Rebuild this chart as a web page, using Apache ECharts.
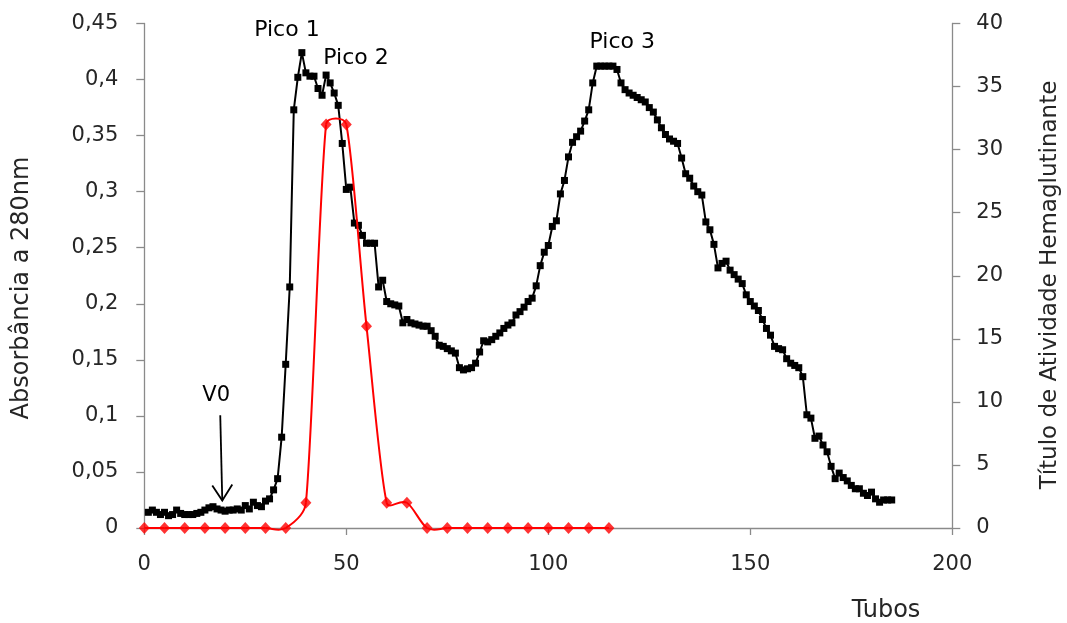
<!DOCTYPE html>
<html>
<head>
<meta charset="utf-8">
<script src="https://cdn.jsdelivr.net/npm/echarts@6/dist/echarts.min.js"></script>
<style>
  html, body { margin: 0; padding: 0; background: #ffffff; }
  #chart { width: 1067px; height: 623px; }
</style>
</head>
<body>
<div id="chart"></div>
<script>
// Absorbance at 280 nm, one reading per tube (tubes 1..185)
const absorbance = [
  0.014, 0.016, 0.014, 0.012, 0.014, 0.011, 0.012, 0.016, 0.013, 0.012,
  0.012, 0.012, 0.013, 0.014, 0.016, 0.018, 0.019, 0.017, 0.016, 0.015,
  0.016, 0.016, 0.017, 0.016, 0.020, 0.017, 0.023, 0.020, 0.019, 0.024,
  0.026, 0.034, 0.044, 0.081, 0.146, 0.215, 0.373, 0.402, 0.424, 0.406,
  0.403, 0.403, 0.392, 0.386, 0.404, 0.397, 0.388, 0.377, 0.343, 0.302,
  0.304, 0.272, 0.270, 0.261, 0.254, 0.254, 0.254, 0.215, 0.221, 0.202,
  0.200, 0.199, 0.198, 0.183, 0.186, 0.183, 0.182, 0.181, 0.180, 0.180,
  0.176, 0.171, 0.163, 0.162, 0.160, 0.158, 0.156, 0.143, 0.141, 0.142,
  0.143, 0.147, 0.157, 0.167, 0.166, 0.168, 0.171, 0.174, 0.178, 0.181,
  0.183, 0.190, 0.193, 0.197, 0.202, 0.205, 0.216, 0.234, 0.246, 0.252,
  0.269, 0.274, 0.298, 0.310, 0.331, 0.344, 0.349, 0.354, 0.363, 0.373,
  0.397, 0.412, 0.412, 0.412, 0.412, 0.412, 0.409, 0.397, 0.391, 0.388,
  0.386, 0.384, 0.382, 0.380, 0.375, 0.371, 0.364, 0.357, 0.351, 0.347,
  0.345, 0.343, 0.330, 0.316, 0.312, 0.305, 0.300, 0.297, 0.273, 0.266,
  0.253, 0.232, 0.236, 0.238, 0.230, 0.226, 0.222, 0.218, 0.208, 0.202,
  0.198, 0.194, 0.186, 0.178, 0.172, 0.162, 0.160, 0.159, 0.151, 0.147,
  0.145, 0.143, 0.135, 0.101, 0.098, 0.080, 0.082, 0.074, 0.068, 0.055,
  0.044, 0.049, 0.045, 0.042, 0.038, 0.035, 0.035, 0.031, 0.029, 0.032,
  0.026, 0.023, 0.025, 0.025, 0.025
];
const firstTube = 1;

// Haemagglutinating activity titre, tested every fifth tube
const titerTubes = [0, 5, 10, 15, 20, 25, 30, 35, 40, 45, 50, 55, 60, 65, 70, 75, 80, 85, 90, 95, 100, 105, 110, 115];
const titer      = [0, 0, 0,  0,  0,  0,  0,  0,  2,  32, 32, 16, 2,  2,  0,  0,  0,  0,  0,  0,  0,   0,   0,   0];

// Axis tick labels
const leftTickLabels   = ['0', '0,05', '0,1', '0,15', '0,2', '0,25', '0,3', '0,35', '0,4', '0,45'];
const rightTickLabels  = ['0', '5', '10', '15', '20', '25', '30', '35', '40'];
const bottomTickLabels = ['0', '50', '100', '150', '200'];

// Peak annotations (data coordinates on the absorbance axis)
const peakNames = ['Pico 1', 'Pico 2', 'Pico 3'];
const peakX     = [35.3, 52.4, 118.3];
const peakY     = [0.444, 0.419, 0.4335];

// Void volume marker
const voidName      = 'V0';
const voidLabel     = [17.8, 0.1178];
const voidArrowFrom = [18.8, 0.1005];
const voidArrowTo   = [19.3, 0.0245];

const absData   = absorbance.map((v, i) => [firstTube + i, v]);
const titerData = titerTubes.map((t, i) => [t, titer[i]]);

const axisGrey  = '#8a8a8a';
const textColor = '#262626';
const FONT = 'DejaVu Sans';

// Smoothed curve through pixel points: cubic Bezier segments whose control arms
// follow the neighbour chord (length/6) but never exceed a fraction of the segment.
function smoothSegments(pts) {
  const segs = [];
  const n = pts.length;
  const maxArm = 0.4;
  const dist = (a, b) => Math.hypot(b[0] - a[0], b[1] - a[1]);
  for (let i = 0; i < n - 1; i++) {
    const p0 = pts[Math.max(i - 1, 0)];
    const p1 = pts[i];
    const p2 = pts[i + 1];
    const p3 = pts[Math.min(i + 2, n - 1)];
    const d12 = dist(p1, p2);
    const d02 = dist(p0, p2);
    const d13 = dist(p1, p3);
    let f1 = 1 / 6, f2 = 1 / 6;
    if (d02 / 6 > d12 * maxArm && d02 > 0) f1 = d12 * maxArm / d02;
    if (d13 / 6 > d12 * maxArm && d13 > 0) f2 = d12 * maxArm / d13;
    const c1 = [p1[0] + (p2[0] - p0[0]) * f1, p1[1] + (p2[1] - p0[1]) * f1];
    const c2 = [p2[0] - (p3[0] - p1[0]) * f2, p2[1] - (p3[1] - p1[1]) * f2];
    segs.push({ x1: p1[0], y1: p1[1], cpx1: c1[0], cpy1: c1[1], cpx2: c2[0], cpy2: c2[1], x2: p2[0], y2: p2[1] });
  }
  return segs;
}

const chart = echarts.init(document.getElementById('chart'), null, { renderer: 'canvas' });

const option = {
  backgroundColor: '#ffffff',
  animation: false,
  textStyle: { fontFamily: FONT },
  grid: { left: 144.3, right: 114.7, top: 23.5, bottom: 95, containLabel: false },
  xAxis: {
    type: 'value', min: 0, max: 200, interval: 50,
    axisLine: { show: true, onZero: false, lineStyle: { color: axisGrey, width: 1.3 } },
    axisTick: { show: true, inside: false, length: 7, lineStyle: { color: axisGrey, width: 1.3 } },
    splitLine: { show: false },
    axisLabel: {
      margin: 26, fontSize: 21, color: textColor, fontFamily: FONT,
      formatter: v => bottomTickLabels[Math.round(v / 50)]
    }
  },
  yAxis: [
    {
      type: 'value', min: 0, max: 0.45, interval: 0.05, position: 'left',
      axisLine: { show: true, lineStyle: { color: axisGrey, width: 1.3 } },
      axisTick: { show: true, inside: false, length: 8, lineStyle: { color: axisGrey, width: 1.3 } },
      splitLine: { show: false },
      axisLabel: {
        margin: 26, fontSize: 21, color: textColor, fontFamily: FONT,
        formatter: v => leftTickLabels[Math.round(v / 0.05)]
      }
    },
    {
      type: 'value', min: 0, max: 40, interval: 5, position: 'right',
      axisLine: { show: true, lineStyle: { color: axisGrey, width: 1.3 } },
      axisTick: { show: true, inside: false, length: 8, lineStyle: { color: axisGrey, width: 1.3 } },
      splitLine: { show: false },
      axisLabel: {
        margin: 24, fontSize: 21, color: textColor, fontFamily: FONT,
        formatter: v => rightTickLabels[Math.round(v / 5)]
      }
    }
  ],
  series: [
    {
      name: 'Absorbância a 280nm',
      type: 'line',
      yAxisIndex: 0,
      data: absData,
      symbol: 'rect',
      symbolSize: 7,
      showAllSymbol: true,
      lineStyle: { color: '#000000', width: 2 },
      itemStyle: { color: '#000000' },
      z: 2
    },
    {
      // smoothed titre curve, drawn once from all titre points
      name: 'Título de Atividade Hemaglutinante (curva)',
      type: 'custom',
      yAxisIndex: 1,
      data: titerData,
      z: 3,
      renderItem: function (params, api) {
        if (params.dataIndex !== 0) return null;
        const pts = titerData.map(d => api.coord(d));
        return {
          type: 'group',
          children: smoothSegments(pts).map(s => ({
            type: 'bezierCurve',
            shape: s,
            style: { stroke: '#ff0000', lineWidth: 2, fill: null }
          }))
        };
      }
    },
    {
      name: 'Título de Atividade Hemaglutinante',
      type: 'scatter',
      yAxisIndex: 1,
      data: titerData,
      symbol: 'diamond',
      symbolSize: [11, 12],
      itemStyle: { color: '#ff0000' },
      z: 4
    }
  ]
};

chart.setOption(option);

// Axis titles and annotations, placed from data coordinates
function px(pt) {
  return chart.convertToPixel({ xAxisIndex: 0, yAxisIndex: 0 }, pt);
}

const graphics = [];

graphics.push({
  type: 'text',
  style: {
    text: 'Absorbância a 280nm', fontSize: 24, fill: textColor, fontFamily: FONT,
    align: 'center', verticalAlign: 'middle'
  },
  x: 22, y: 288, rotation: Math.PI / 2
});
graphics.push({
  type: 'text',
  style: {
    text: 'Título de Atividade Hemaglutinante', fontSize: 23, fill: textColor, fontFamily: FONT,
    align: 'center', verticalAlign: 'middle'
  },
  x: 1050, y: 285, rotation: Math.PI / 2
});
graphics.push({
  type: 'text',
  style: {
    text: 'Tubos', fontSize: 24, fill: textColor, fontFamily: FONT,
    align: 'center', verticalAlign: 'middle'
  },
  x: 886, y: 611
});

peakNames.forEach((name, i) => {
  const p = px([peakX[i], peakY[i]]);
  graphics.push({
    type: 'text',
    style: { text: name, fontSize: 22, fill: '#000000', fontFamily: FONT, align: 'center', verticalAlign: 'middle' },
    x: p[0], y: p[1]
  });
});

const vl = px(voidLabel);
graphics.push({
  type: 'text',
  style: { text: voidName, fontSize: 21, fill: '#000000', fontFamily: FONT, align: 'center', verticalAlign: 'middle' },
  x: vl[0], y: vl[1]
});
const a0 = px(voidArrowFrom);
const a1 = px(voidArrowTo);
graphics.push({
  type: 'line',
  shape: { x1: a0[0], y1: a0[1], x2: a1[0], y2: a1[1] },
  style: { stroke: '#000000', lineWidth: 1.8 }
});
graphics.push({
  type: 'polyline',
  shape: { points: [[a1[0] - 10, a1[1] - 15], [a1[0], a1[1]], [a1[0] + 10, a1[1] - 16]] },
  style: { stroke: '#000000', lineWidth: 1.8, fill: null }
});

chart.setOption({ graphic: graphics });
</script>
</body>
</html>
